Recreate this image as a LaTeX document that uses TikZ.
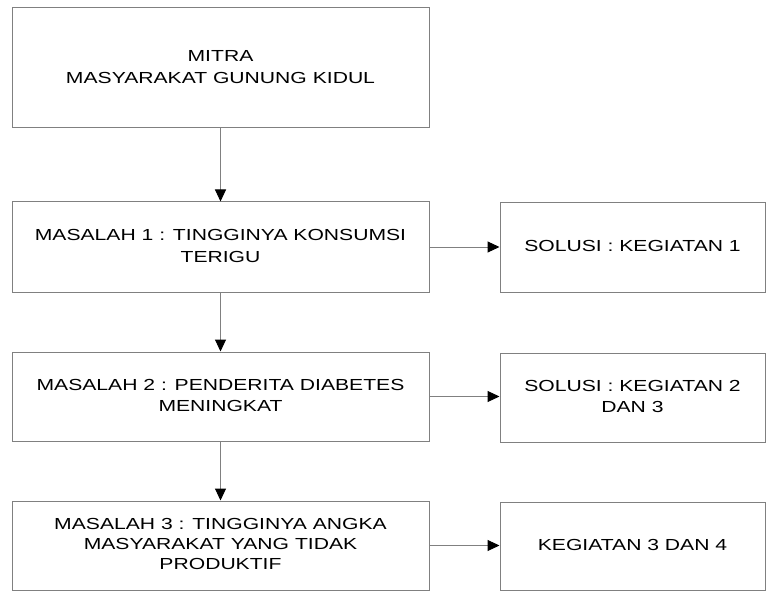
\documentclass[tikz,border=0pt]{standalone}
\usepackage{fontspec}
\setmainfont{Liberation Sans}
\usetikzlibrary{arrows.meta}
\definecolor{linegray}{RGB}{128,128,128}
\newcommand\widetxt[1]{\scalebox{1.32}[1]{\begin{tabular}{@{}c@{}}#1\end{tabular}}}
\begin{document}
\begin{tikzpicture}[x=1pt,y=-1pt,
  box/.style={draw=linegray, line width=1pt, inner sep=0pt, align=center,
    font=\fontsize{16}{21.5}\selectfont, text=black},
  leftbox/.style={box, minimum width=417pt},
  rightbox/.style={box, minimum width=265pt},
  conn/.style={draw=linegray, line width=1pt, -{Triangle[length=12pt,width=11pt,color=black]}}
]
\useasboundingbox (0,0) rectangle (769,591);
\node[leftbox, minimum height=120pt] (b1) at (220.5,68) {\widetxt{MITRA\\MASYARAKAT GUNUNG KIDUL}};
\node[leftbox, minimum height=90pt] (b2) at (220.5,247) {\widetxt{MASALAH 1 : TINGGINYA KONSUMSI\\TERIGU}};
\node[leftbox, minimum height=89pt] (b3) at (220.5,396.5) {\widetxt{MASALAH 2 : PENDERITA DIABETES\\MENINGKAT}};
\node[leftbox, minimum height=89pt, font=\fontsize{16}{19.7}\selectfont] (b4) at (220.5,545.5) {\widetxt{MASALAH 3 : TINGGINYA ANGKA\\MASYARAKAT YANG TIDAK\\PRODUKTIF}};
\node[rightbox, minimum height=89pt] (r1) at (632.5,247.5) {\widetxt{SOLUSI : KEGIATAN 1}};
\node[rightbox, minimum height=89pt] (r2) at (632.5,397.5) {\widetxt{SOLUSI : KEGIATAN 2\\DAN 3}};
\node[rightbox, minimum height=88pt] (r3) at (632.5,546) {\widetxt{KEGIATAN 3 DAN 4}};
\draw[conn] (b1) -- (b2);
\draw[conn] (b2) -- (b3);
\draw[conn] (b3) -- (b4);
\draw[conn] (b2.east) -- (b2.east -| r1.west);
\draw[conn] (b3.east) -- (b3.east -| r2.west);
\draw[conn] (b4.east) -- (b4.east -| r3.west);
\end{tikzpicture}
\end{document}
